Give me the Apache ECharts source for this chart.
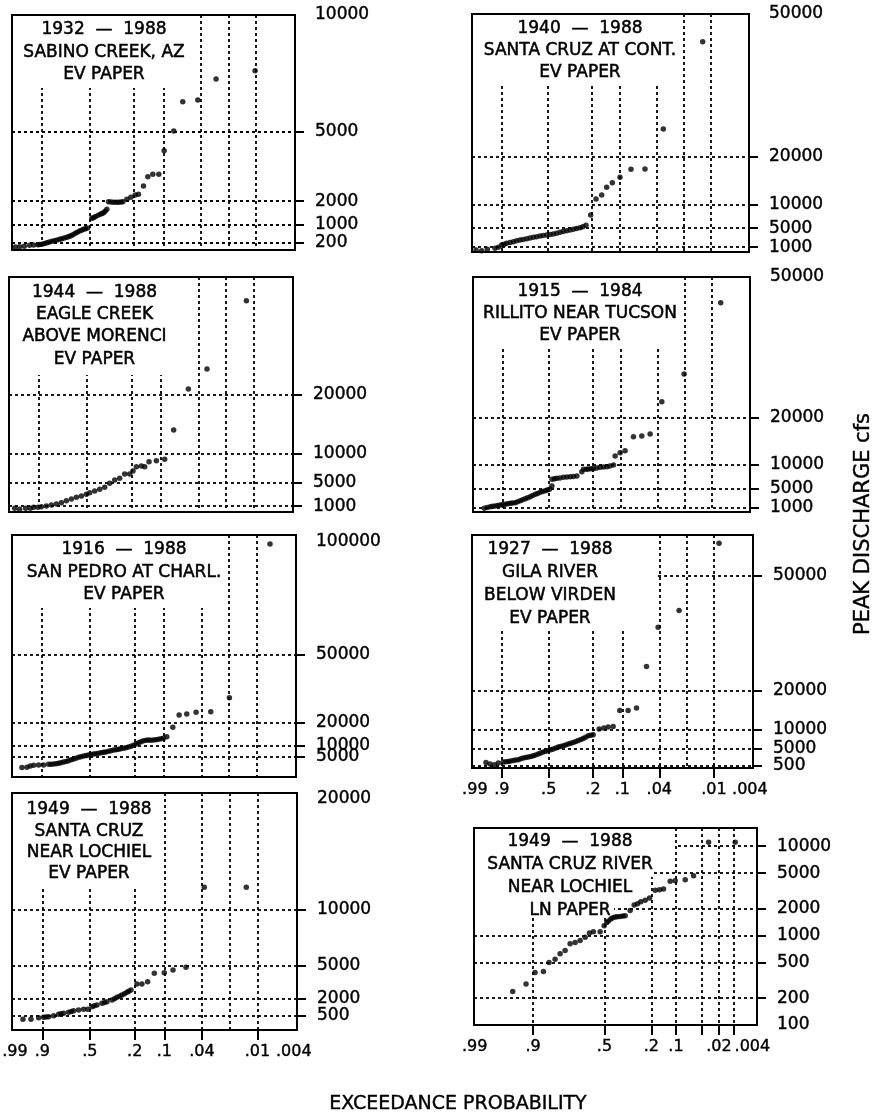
<!DOCTYPE html>
<html>
<head>
<meta charset="utf-8">
<script src="https://cdn.jsdelivr.net/npm/echarts@6/dist/echarts.min.js"></script>
<style>
html, body { margin: 0; padding: 0; background: #fff; }
#main { width: 879px; height: 1115px; }
</style>
</head>
<body>
<div id="main"></div>
<script>
// x axis: exceedance probability (EV = Gumbel paper, LN = normal paper)
var evLabelProbs = [0.99, 0.9, 0.5, 0.2, 0.1, 0.04, 0.01, 0.004];
var evLabelText = ['.99', '.9', '.5', '.2', '.1', '.04', '.01', '.004'];
var evTickProbs = [0.9, 0.5, 0.2, 0.1, 0.04, 0.01];
var evGridProbs = [0.9, 0.5, 0.2, 0.1, 0.04, 0.02, 0.01];
var lnLabelProbs = [0.99, 0.9, 0.5, 0.2, 0.1, 0.02, 0.004];
var lnLabelText = ['.99', '.9', '.5', '.2', '.1', '.02', '.004'];
var lnTickProbs = [0.9, 0.5, 0.2, 0.1, 0.04, 0.02, 0.01];

// points: [plotting variate, peak discharge cfs]
var sabinoPts = [[-1.516,30],[-1.406,40],[-1.287,60],[-1.152,100],[-1.05,110],[-0.94,130],[-0.9,135],[-0.838,144],[-0.77,180],[-0.711,215],[-0.65,245],[-0.584,273],[-0.52,300],[-0.457,330],[-0.39,360],[-0.33,387],[-0.27,415],[-0.203,445],[-0.15,480],[-0.101,516],[-0.05,560],[0.009,616],[0.06,665],[0.119,717],[0.17,750],[0.22,788],[0.27,815],[0.322,846],[0.432,1261],[0.47,1290],[0.517,1333],[0.58,1380],[0.644,1433],[0.69,1470],[0.729,1504],[0.77,1570],[0.814,1648],[0.856,1977],[0.92,1960],[0.983,1949],[1.05,1950],[1.11,1949],[1.17,1960],[1.22,1977],[1.322,2078],[1.424,2164],[1.534,2264],[1.618,2293],[1.745,2651],[1.856,3052],[1.983,3152],[2.135,3152],[2.271,4169],[2.516,5015],[2.745,6275],[3.127,6347],[3.592,7250],[4.584,7608]];
var santaCruzContPts = [[-1.496,420],[-1.349,280],[-1.201,560],[-1.002,770],[-0.916,981],[-0.829,1471],[-0.76,1650],[-0.699,1821],[-0.61,2000],[-0.526,2171],[-0.44,2350],[-0.352,2521],[-0.27,2650],[-0.179,2801],[-0.09,2950],[-0.006,3081],[0.08,3200],[0.168,3361],[0.25,3470],[0.341,3571],[0.43,3680],[0.514,3781],[0.6,3950],[0.687,4132],[0.77,4300],[0.861,4482],[0.95,4600],[1.034,4762],[1.12,4930],[1.207,5112],[1.28,5300],[1.363,5602],[1.485,7773],[1.623,11134],[1.771,11975],[1.901,13585],[2.048,14566],[2.247,15686],[2.533,17366],[2.897,17437],[3.373,25840],[4.396,44187]];
var eaglePts = [[-1.455,624],[-1.329,454],[-1.177,624],[-1.058,624],[-0.974,794],[-0.864,794],[-0.779,908],[-0.653,1021],[-0.526,1191],[-0.399,1362],[-0.272,1589],[-0.146,1929],[-0.019,2213],[0.108,2496],[0.235,2723],[0.361,3007],[0.446,3291],[0.573,3574],[0.699,3858],[0.826,4199],[0.953,4880],[1.08,5447],[1.206,5730],[1.333,6468],[1.46,6468],[1.544,6979],[1.629,7716],[1.756,7830],[1.84,7716],[1.95,8567],[2.136,8737],[2.347,8964],[2.575,13957],[2.947,20936],[3.42,24340],[4.418,35971]];
var rillitoPts = [[-1.307,781],[-1.23,950],[-1.151,1134],[-1.09,1200],[-1.021,1277],[-0.96,1380],[-0.891,1489],[-0.83,1560],[-0.761,1632],[-0.7,1740],[-0.632,1844],[-0.57,1900],[-0.502,1986],[-0.44,2200],[-0.372,2411],[-0.31,2620],[-0.242,2836],[-0.18,3050],[-0.112,3262],[-0.05,3500],[0.018,3759],[0.08,3950],[0.147,4184],[0.21,4350],[0.277,4539],[0.33,4700],[0.39,4823],[0.45,5532],[0.455,6950],[0.52,7050],[0.58,7163],[0.66,7250],[0.753,7376],[0.84,7450],[0.926,7518],[1.01,7560],[1.1,7660],[1.229,8582],[1.273,9078],[1.35,9100],[1.402,9149],[1.47,9180],[1.532,9220],[1.62,9350],[1.705,9504],[1.79,9580],[1.879,9645],[1.96,9800],[2.052,10000],[2.095,11915],[2.225,12624],[2.354,13050],[2.571,16028],[2.787,16170],[3.004,16596],[3.307,23475],[3.886,29362],[4.839,44539]];
var sanPedroPts = [[-1.348,200],[-1.221,276],[-1.137,864],[-1.052,1160],[-0.926,1306],[-0.799,1306],[-0.672,1602],[-0.61,1680],[-0.546,1748],[-0.48,1900],[-0.419,2044],[-0.36,2300],[-0.292,2632],[-0.23,2900],[-0.166,3220],[-0.1,3600],[-0.039,3959],[0.02,4300],[0.087,4696],[0.15,5000],[0.214,5285],[0.28,5500],[0.341,5727],[0.4,5950],[0.467,6169],[0.53,6300],[0.594,6466],[0.66,6700],[0.721,6908],[0.78,7100],[0.847,7350],[0.91,7650],[0.974,7938],[1.04,8100],[1.1,8234],[1.16,8450],[1.227,8676],[1.29,8950],[1.354,9265],[1.42,9600],[1.48,10003],[1.55,10600],[1.607,11179],[1.67,11600],[1.734,12063],[1.8,12200],[1.86,12360],[1.92,12300],[1.987,12360],[2.05,12500],[2.113,12656],[2.18,12900],[2.24,13098],[2.325,13832],[2.477,17961],[2.637,23413],[2.831,23855],[3.067,24594],[3.439,24886],[3.912,31076],[4.941,99021]];
var gilaPts = [[-1.242,1460],[-1.139,1029],[-1.028,856],[-0.926,1289],[-0.798,1548],[-0.73,1640],[-0.67,1719],[-0.61,1850],[-0.542,1979],[-0.48,2060],[-0.414,2152],[-0.35,2380],[-0.286,2585],[-0.22,2700],[-0.158,2845],[-0.09,3000],[-0.03,3190],[0.03,3400],[0.098,3623],[0.16,3900],[0.226,4141],[0.29,4350],[0.354,4572],[0.42,4750],[0.482,4919],[0.55,5200],[0.61,5438],[0.67,5600],[0.738,5783],[0.8,6000],[0.866,6216],[0.93,6420],[0.994,6646],[1.06,6900],[1.122,7165],[1.19,7400],[1.25,7684],[1.31,8000],[1.377,8376],[1.44,8500],[1.505,8635],[1.659,10106],[1.779,10365],[1.889,10624],[2.017,10795],[2.188,14945],[2.401,14945],[2.615,15552],[2.871,26355],[3.169,36556],[3.707,40876],[4.73,58338]];
var lochielEvPts = [[-1.323,159],[-1.121,159],[-0.927,308],[-0.801,339],[-0.74,370],[-0.675,398],[-0.548,488],[-0.422,608],[-0.36,650],[-0.296,698],[-0.169,788],[-0.1,860],[-0.043,937],[0.083,997],[0.21,1058],[0.311,1058],[0.42,1297],[0.48,1370],[0.547,1447],[0.673,1597],[0.74,1670],[0.799,1746],[0.926,1896],[0.99,2010],[1.052,2136],[1.12,2240],[1.178,2346],[1.24,2460],[1.304,2585],[1.35,2690],[1.406,2795],[1.557,3334],[1.683,3334],[1.826,3544],[1.995,4293],[2.247,4352],[2.467,4592],[2.795,4832],[3.258,12022],[4.319,12022]];
var lochielLnPts = [[-1.646,237],[-1.407,288],[-1.245,386],[-1.095,397],[-0.994,500],[-0.886,545],[-0.796,626],[-0.706,682],[-0.617,811],[-0.527,839],[-0.437,883],[-0.347,962],[-0.27,1067],[-0.198,1104],[-0.078,1104],[-0.006,1289],[0.042,1405],[0.07,1460],[0.114,1531],[0.15,1580],[0.191,1613],[0.23,1630],[0.281,1641],[0.33,1655],[0.371,1670],[0.46,1916],[0.532,2199],[0.592,2276],[0.652,2397],[0.73,2482],[0.808,2636],[0.909,3214],[0.987,3268],[1.059,3323],[1.179,4054],[1.268,4124],[1.448,4229],[1.597,4688],[1.867,11088],[2.345,11088]];

// y tick labels (cfs)
var sabinoY = [200, 1000, 2000, 5000, 10000];
var santaCruzContY = [1000, 5000, 10000, 20000, 50000];
var eagleY = [1000, 5000, 10000, 20000];
var rillitoY = [1000, 5000, 10000, 20000, 50000];
var sanPedroY = [5000, 10000, 20000, 50000, 100000];
var gilaY = [500, 5000, 10000, 20000, 50000];
var lochielEvY = [500, 2000, 5000, 10000, 20000];
var lochielLnY = [100, 200, 500, 1000, 2000, 5000, 10000];

var titles = [
  ['1932  \u2014  1988', 'SABINO CREEK, AZ', 'EV PAPER'],
  ['1940  \u2014  1988', 'SANTA CRUZ AT CONT.', 'EV PAPER'],
  ['1944  \u2014  1988', 'EAGLE CREEK', 'ABOVE MORENCI', 'EV PAPER'],
  ['1915  \u2014  1984', 'RILLITO NEAR TUCSON', 'EV PAPER'],
  ['1916  \u2014  1988', 'SAN PEDRO AT CHARL.', 'EV PAPER'],
  ['1927  \u2014  1988', 'GILA RIVER', 'BELOW VIRDEN', 'EV PAPER'],
  ['1949  \u2014  1988', 'SANTA CRUZ', 'NEAR LOCHIEL', 'EV PAPER'],
  ['1949  \u2014  1988', 'SANTA CRUZ RIVER', 'NEAR LOCHIEL', 'LN PAPER']
];

function gumbel(p) { return -Math.log(-Math.log(1 - p)); }

// inverse standard normal (Acklam)
function normInv(p) {
  var a = [-39.69683028665376, 220.9460984245205, -275.9285104469687, 138.3577518672690, -30.66479806614716, 2.506628277459239];
  var b = [-54.47609879822406, 161.5858368580409, -155.6989798598866, 66.80131188771972, -13.28068155288572];
  var c = [-0.007784894002430293, -0.3223964580411365, -2.400758277161838, -2.549732539343734, 4.374664141464968, 2.938163982698783];
  var d = [0.007784695709041462, 0.3224671290700398, 2.445134137142996, 3.754408661907416];
  var q, r;
  if (p < 0.02425) {
    q = Math.sqrt(-2 * Math.log(p));
    return (((((c[0]*q+c[1])*q+c[2])*q+c[3])*q+c[4])*q+c[5]) / ((((d[0]*q+d[1])*q+d[2])*q+d[3])*q+1);
  }
  if (p > 1 - 0.02425) {
    q = Math.sqrt(-2 * Math.log(1 - p));
    return -(((((c[0]*q+c[1])*q+c[2])*q+c[3])*q+c[4])*q+c[5]) / ((((d[0]*q+d[1])*q+d[2])*q+d[3])*q+1);
  }
  q = p - 0.5; r = q * q;
  return (((((a[0]*r+a[1])*r+a[2])*r+a[3])*r+a[4])*r+a[5])*q / (((((b[0]*r+b[1])*r+b[2])*r+b[3])*r+b[4])*r+1);
}
function lnPos(p) { return normInv(1 - p); }

// blank: white patches behind the panel captions (they hide the grid there)
// yl2: crowded bottom label, drawn by a helper axis so echarts does not drop it
var panels = [
  {box: [12, 15, 283, 235], yr: [-100, 10000], yl: sabinoY, yt: [200, 1000, 2000, 5000], pts: sabinoPts, tx: [104, 30, 22.5], blank: [[13, 16, 192, 88]]},
  {box: [472, 14, 277, 238], yr: [0, 50000], yl: santaCruzContY, yt: [1000, 5000, 10000, 20000], pts: santaCruzContPts, tx: [580, 28.3, 22.2], blank: [[473, 15, 678, 84]]},
  {box: [9, 277, 284, 235], yr: [0, 40000], yl: eagleY, yt: eagleY, pts: eaglePts, tx: [94.5, 292.3, 22.3], blank: [[10, 278, 180, 375]]},
  {box: [473, 277, 277, 235], yr: [0, 50000], yl: rillitoY, yt: [1000, 5000, 10000, 20000], pts: rillitoPts, tx: [580, 291.7, 21.7], blank: [[474, 278, 681, 347]]},
  {box: [12, 535, 284, 242], yr: [-4000, 103000], yl: sanPedroY.slice(1), yl2: sanPedroY.slice(0, 1), yt: [5000, 10000, 20000, 50000], pts: sanPedroPts, tx: [124, 550, 22.5], blank: [[13, 536, 226, 608]]},
  {box: [472, 535, 281, 233], yr: [0, 60500], yl: gilaY, yt: gilaY, pts: gilaPts, tx: [550, 550, 22.8], blank: [[473, 536, 656, 628]], bottom: true},
  {box: [12, 793, 285, 237], yr: [-800, 20500], yl: lochielEvY.slice(1), yl2: lochielEvY.slice(0, 1), yt: [500, 2000, 5000, 10000], pts: lochielEvPts, tx: [89, 810, 21.3], blank: [[13, 794, 160, 889]], bottom: true},
  {box: [474, 828, 283, 197], yr: [100, 16000], yl: lochielLnY, yt: [200, 500, 1000, 2000, 5000, 10000], pts: lochielLnPts, tx: [570, 841.7, 22.8], blank: [[475, 829, 675, 860], [475, 860, 653, 877], [475, 877, 614, 918]], bottom: true, ln: true}
];

var dotted = {color: '#000', width: 1.8, type: [3, 3]};
var FONT = 'DejaVu Sans';

function labelFormatter(pos, text) {
  return function (v) {
    var best = 0;
    for (var k = 1; k < pos.length; k++) {
      if (Math.abs(pos[k] - v) < Math.abs(pos[best] - v)) best = k;
    }
    return text[best];
  };
}
function cfsLabel(v) { return String(Math.round(v)); }

var yLabelStyle = {
  show: true, margin: 20, color: '#000', fontFamily: FONT, fontSize: 17,
  textBorderColor: '#000', textBorderWidth: 0.4,
  showMinLabel: true, showMaxLabel: true, formatter: cfsLabel
};

var option = {
  animation: false,
  backgroundColor: '#fff',
  grid: [], xAxis: [], yAxis: [], series: [], graphic: []
};

panels.forEach(function (p, i) {
  var toX = p.ln ? lnPos : gumbel;
  var xr = p.ln ? [-2.34, 2.735] : [-1.6, 5.6];
  option.grid.push({
    left: p.box[0], top: p.box[1], width: p.box[2], height: p.box[3],
    show: true, borderColor: '#000', borderWidth: 2, backgroundColor: 'transparent',
    outerBoundsMode: 'none'
  });
  var xi = option.xAxis.length;
  option.xAxis.push({
    type: 'value', gridIndex: i, position: 'top', min: xr[0], max: xr[1],
    axisLine: {show: false, onZero: false}, axisLabel: {show: false},
    axisTick: {show: false, customValues: (p.ln ? lnTickProbs : evGridProbs).map(toX)},
    splitLine: {show: true, lineStyle: dotted}
  });
  if (p.bottom) {
    var lp = (p.ln ? lnLabelProbs : evLabelProbs).map(toX);
    option.xAxis.push({
      type: 'value', gridIndex: i, position: 'bottom', min: xr[0], max: xr[1],
      axisLine: {show: false, onZero: false},
      axisTick: {show: true, inside: false, length: 10, lineStyle: {color: '#000', width: 2},
        customValues: (p.ln ? lnTickProbs : evTickProbs).map(toX)},
      axisLabel: {show: true, margin: 14, color: '#000', fontFamily: FONT, fontSize: 16,
        textBorderColor: '#000', textBorderWidth: 0.4,
        showMinLabel: true, showMaxLabel: true,
        customValues: lp, formatter: labelFormatter(lp, p.ln ? lnLabelText : evLabelText)},
      splitLine: {show: false}
    });
  }
  var yi = option.yAxis.length;
  option.yAxis.push({
    type: p.ln ? 'log' : 'value', logBase: 10, gridIndex: i, position: 'right',
    min: p.yr[0], max: p.yr[1],
    axisLine: {show: false, onZero: false},
    axisTick: {show: true, inside: false, length: 9, lineStyle: {color: '#000', width: 2}, customValues: p.yt},
    axisLabel: Object.assign({customValues: p.yl}, yLabelStyle),
    splitLine: {show: true, lineStyle: dotted}
  });
  if (p.yl2) {
    // helper axis sitting on the right edge, labels pushed outward
    option.yAxis.push({
      type: 'value', gridIndex: i, position: 'left', offset: -p.box[2],
      min: p.yr[0], max: p.yr[1],
      axisLine: {show: false, onZero: false},
      axisTick: {show: false},
      axisLabel: Object.assign({customValues: p.yl2, inside: true}, yLabelStyle),
      splitLine: {show: false}
    });
  }
  option.series.push({
    type: 'scatter', xAxisIndex: xi, yAxisIndex: yi, z: 102,
    symbol: 'circle', symbolSize: 5.5,
    itemStyle: {color: '#000'},
    data: p.pts
  });
  p.blank.forEach(function (b) {
    option.graphic.push({
      type: 'rect', z: 100, silent: true,
      shape: {x: b[0], y: b[1], width: b[2] - b[0], height: b[3] - b[1]},
      style: {fill: '#fff'}
    });
  });
  option.graphic.push({
    type: 'text', z: 101, silent: true,
    x: p.tx[0], y: p.tx[1] - p.tx[2] / 2,
    style: {
      text: titles[i].join('\n'), fill: '#000', stroke: '#000', lineWidth: 0.5,
      font: '17px "' + FONT + '"',
      align: 'center', verticalAlign: 'top', textAlign: 'center', lineHeight: p.tx[2]
    }
  });
});

option.graphic.push({
  type: 'text', z: 101, silent: true, x: 458, y: 1104,
  style: {text: 'EXCEEDANCE PROBABILITY', fill: '#000', stroke: '#000', lineWidth: 0.4,
    font: '19px "' + FONT + '"',
    align: 'center', verticalAlign: 'middle', textAlign: 'center'}
});
option.graphic.push({
  type: 'text', z: 101, silent: true, x: 864, y: 524, rotation: Math.PI / 2,
  style: {text: 'PEAK DISCHARGE cfs', fill: '#000', stroke: '#000', lineWidth: 0.4,
    font: '21px "' + FONT + '"',
    align: 'center', verticalAlign: 'middle', textAlign: 'center'}
});

var chart = echarts.init(document.getElementById('main'), null, {renderer: 'canvas'});
chart.setOption(option);
</script>
</body>
</html>
